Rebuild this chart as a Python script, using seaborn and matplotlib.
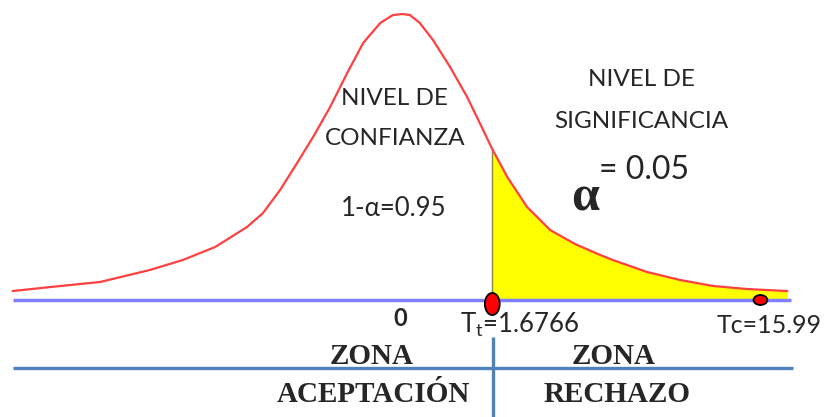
import numpy as np
import matplotlib.pyplot as plt
import seaborn as sns
from matplotlib.patches import Ellipse

# curva t: valor t y altura de la densidad
t_vals = [-7.04, -6.36, -5.45, -4.55, -3.95, -3.36, -2.78, -2.49, -2.18, -1.87,
          -1.58, -1.27, -0.96, -0.67, -0.36, -0.13, 0.04, 0.18, 0.36, 0.60,
          0.91, 1.22, 1.45, 1.6766, 1.95, 2.31, 2.73, 3.18, 3.64, 3.87,
          4.49, 5.09, 5.69, 6.31, 7.04]
densidad = [0.0126, 0.0182, 0.0253, 0.0421, 0.0561, 0.0744, 0.1025, 0.1221, 0.1544, 0.1923,
            0.2288, 0.2709, 0.3186, 0.3607, 0.3888, 0.4000, 0.4014, 0.4000, 0.3888, 0.3649,
            0.3270, 0.2849, 0.2484, 0.2119, 0.1726, 0.1305, 0.0982, 0.0786, 0.0632, 0.0561,
            0.0393, 0.0281, 0.0197, 0.0154, 0.0126]

t_tabla = 1.6766
t_calc = 15.99
t_calc_pos = 6.55   # Tc dibujado fuera de escala
alfa = 0.05
confianza = 0.95

sns.set_theme(style="white")
plt.rcParams['font.family'] = ['Lato', 'DejaVu Sans']
plt.rcParams['mathtext.fontset'] = 'custom'
plt.rcParams['mathtext.rm'] = 'Lato'
plt.rcParams['mathtext.it'] = 'Lato'

fig = plt.figure(figsize=(8.27, 4.17), dpi=100)
ax = fig.add_axes([0, 0, 1, 1])

t = np.array(t_vals)
d = np.array(densidad)
cola = t >= t_tabla
ax.fill_between(t[cola], 0, d[cola], color="#ffff00", lw=0)
ax.vlines(t_tabla, 0, d[cola][0], color="#8a8a3a", lw=1)
ax.hlines(0, -7.04, 7.1, color="#8080ff", lw=2.5)
sns.lineplot(x=t_vals, y=densidad, sort=False, color="#ff4040", lw=1.6, ax=ax)

ax.add_patch(Ellipse((t_tabla, -0.0056), 0.27, 0.031, fc="#ff0000", ec="black", lw=1.3, zorder=5))
ax.add_patch(Ellipse((t_calc_pos, 0.0), 0.25, 0.014, fc="#ff0000", ec="black", lw=1.3, zorder=5))

# textos
ax.text(-0.11, 0.2835, "NIVEL DE", ha="center", va="center", fontsize=17.5)
ax.text(-0.09, 0.227, "CONFIANZA", ha="center", va="center", fontsize=17.5)
ax.text(-0.11, 0.129, f"1-α={confianza:.2f}", ha="center", va="center", fontsize=18.5)
ax.text(4.38, 0.309, "NIVEL DE", ha="center", va="center", fontsize=17.5)
ax.text(4.38, 0.25, "SIGNIFICANCIA", ha="center", va="center", fontsize=17.5)
ax.text(4.44, 0.1825, f"= {alfa:.2f}", ha="center", va="center", fontsize=23)
ax.text(3.36, 0.142, "α", ha="center", va="center", fontsize=36,
        family="Liberation Serif", weight="bold")
ax.text(0, -0.0253, "0", ha="center", va="center", fontsize=17, weight="bold")
ax.text(1.09, -0.0351, "T$_{\\mathrm{t}}$=" + f"{t_tabla}", ha="left", va="center", fontsize=18.5)
ax.text(5.76, -0.0351, f"Tc={t_calc}", ha="left", va="center", fontsize=18)

serif = dict(family="Liberation Serif", weight="bold", fontsize=21, ha="center", va="center")
ax.text(-0.51, -0.0786, "ZONA", **serif)
ax.text(-0.49, -0.132, "ACEPTACIÓN", **serif)
ax.text(3.89, -0.0786, "ZONA", **serif)
ax.text(3.95, -0.132, "RECHAZO", **serif)

ax.hlines(-0.0954, -7.04, 7.15, color="#4f81bd", lw=2.4)
ax.vlines(1.69, -0.052, -0.17, color="#4f81bd", lw=2.4)

ax.set_xlim(-7.27, 7.76)
ax.set_ylim(-0.1642, 0.4211)
ax.axis("off")
fig.savefig("out.png", dpi=100)
